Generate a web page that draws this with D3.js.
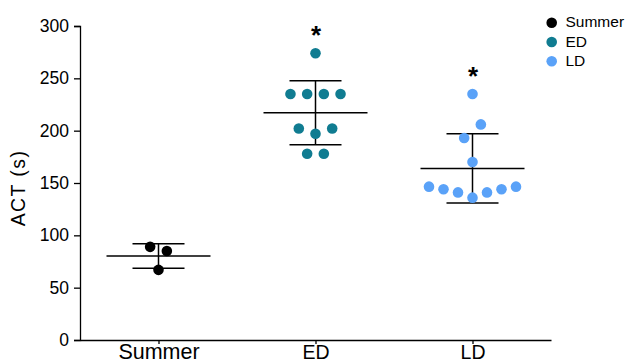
<!DOCTYPE html>
<html>
<head>
<meta charset="utf-8">
<script src="https://cdn.jsdelivr.net/npm/d3@7"></script>
<style>
  body { margin: 0; background: #fff; }
  svg { display: block; font-family: "Liberation Sans", Arial, Helvetica, sans-serif; }
</style>
</head>
<body>
<script>
// ---- data ----
const categories = ["Summer", "ED", "LD"];
const summerACT = [89, 85, 67];
const edACT = [274, 235, 235, 235, 235, 197, 202, 202, 178, 178];
const ldACT = [235, 193, 206, 170, 136, 141, 141, 144, 144, 146.5, 146.5];
const yTicks = [0, 50, 100, 150, 200, 250, 300];
const significance = ["", "*", "*"];
const yLabel = "ACT (s)";

const seriesValues = [summerACT, edACT, ldACT];
const colors = ["#000000", "#107c91", "#5aa2f8"];

// ---- layout ----
const W = 626, H = 364;
const svg = d3.select("body").append("svg").attr("width", W).attr("height", H);

const x = d3.scalePoint().domain(categories).range([80, 551]).padding(0.5);
const y = d3.scaleLinear().domain([0, 300]).range([340, 26]);

const R = 5.3;
const meanHalf = 52, capHalf = 26;

// y axis
const gy = svg.append("g").attr("transform", "translate(80,0)")
  .call(d3.axisLeft(y).tickValues(yTicks).tickSize(6).tickPadding(5).tickFormat(d3.format("d")));
gy.selectAll("text").attr("font-size", 17.5).attr("fill", "#000").attr("font-family", null);
gy.selectAll("line,path").attr("stroke", "#000").attr("stroke-width", 1.3);

// x axis
const gx = svg.append("g").attr("transform", "translate(0,340)")
  .call(d3.axisBottom(x).tickSize(4).tickSizeOuter(0));
gx.selectAll("line,path").attr("stroke", "#000").attr("stroke-width", 1.3);
gx.selectAll("text").attr("fill", "#000").attr("font-family", null)
  .attr("y", 19.2).attr("dy", 0)
  .attr("font-size", d => d === "Summer" ? 21.5 : 19.5);

// y label
svg.append("text")
  .attr("transform", "translate(25,188) rotate(-90)")
  .attr("text-anchor", "middle")
  .attr("font-size", 19.5)
  .attr("letter-spacing", 1.4)
  .text(yLabel);

// beeswarm offsets (grouping near values, center-out placement)
function swarm(values) {
  const idx = values.map((v, i) => i).sort((a, b) => values[a] - values[b] || a - b);
  const groups = [];
  let cur = [];
  idx.forEach((i, k) => {
    if (k > 0 && Math.abs(y(values[i]) - y(values[idx[k - 1]])) > 3 * R) { groups.push(cur); cur = []; }
    cur.push(i);
  });
  if (cur.length) groups.push(cur);
  const off = new Array(values.length).fill(0);
  groups.forEach(g => {
    const n = g.length;
    const step = n > 1 ? Math.min(3.15 * R, 87 / (n - 1)) : 0;
    const slots = d3.range(n).map(k => k - (n - 1) / 2)
      .sort((a, b) => Math.abs(a) - Math.abs(b) || a - b);
    const members = g.slice().sort((a, b) => a - b); // data order
    members.forEach((i, k) => { off[i] = slots[k] * step; });
  });
  return off;
}

categories.forEach((c, ci) => {
  const vals = seriesValues[ci];
  const cx = x(c);
  const m = d3.mean(vals), sd = d3.deviation(vals);
  const g = svg.append("g").attr("stroke", "#000").attr("stroke-width", 1.5);
  g.append("line").attr("x1", cx - meanHalf).attr("x2", cx + meanHalf).attr("y1", y(m)).attr("y2", y(m));
  g.append("line").attr("x1", cx - capHalf).attr("x2", cx + capHalf).attr("y1", y(m + sd)).attr("y2", y(m + sd));
  g.append("line").attr("x1", cx - capHalf).attr("x2", cx + capHalf).attr("y1", y(m - sd)).attr("y2", y(m - sd));
  g.append("line").attr("x1", cx).attr("x2", cx).attr("y1", y(m + sd)).attr("y2", y(m - sd));

  const off = swarm(vals);
  svg.append("g").selectAll("circle").data(vals).join("circle")
    .attr("cx", (d, i) => cx + off[i])
    .attr("cy", d => y(d))
    .attr("r", R)
    .attr("fill", colors[ci]);

  if (significance[ci]) {
    svg.append("text")
      .attr("x", cx + 0.5)
      .attr("y", y(d3.max(vals)) - 24 + 15)
      .attr("text-anchor", "middle")
      .attr("font-size", 26)
      .attr("font-weight", "bold")
      .text(significance[ci]);
  }
});

// legend
const lg = svg.append("g");
categories.forEach((c, i) => {
  const yy = 22 + i * 19.25;
  lg.append("circle").attr("cx", 551.7).attr("cy", yy + 0.8).attr("r", 5.3).attr("fill", colors[i]);
  lg.append("text").attr("x", 565.5).attr("y", yy).attr("dy", "0.35em")
    .attr("font-size", 15.5).text(c);
});
</script>
</body>
</html>
